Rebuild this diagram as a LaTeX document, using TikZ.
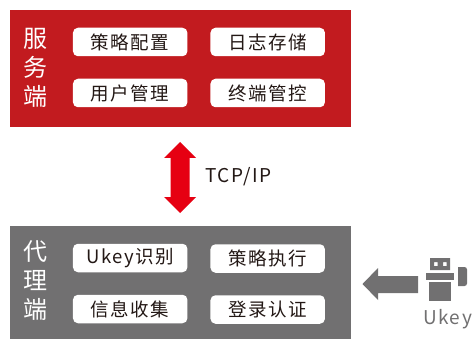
\documentclass[tikz,border=0pt]{standalone}
\usepackage{fontspec}
\setmainfont{Noto Sans CJK SC}
\newfontfamily\pillfont[LetterSpace=8]{Noto Sans CJK SC}
\newfontfamily\sidefont{Noto Sans CJK SC}
\definecolor{srvred}{HTML}{C21B1F}
\definecolor{agentgray}{HTML}{717071}
\definecolor{arrowred}{HTML}{E60012}
\definecolor{inktext}{HTML}{231815}
\tikzset{
  panel/.style={draw=none,inner sep=0pt,minimum width=341pt,anchor=north west},
  pill/.style={fill=white,rounded corners=5pt,inner sep=0pt,minimum width=114.5pt,minimum height=28.5pt,
    text=inktext,font=\pillfont\fontsize{18.5}{20}\selectfont},
  sidelabel/.style={text=white,align=center,inner sep=0pt,font=\sidefont\fontsize{24}{29}\selectfont},
  plain/.style={inner sep=0pt,text=inktext,font=\pillfont\fontsize{19}{20}\selectfont},
}
\begin{document}
\begin{tikzpicture}[x=1pt,y=-1pt]
\useasboundingbox (0,0) rectangle (473,339);
\fill[white] (0,0) rectangle (473,339);
\node[panel,fill=srvred,minimum height=117pt] (server) at (10,10) {};
\node[panel,fill=agentgray,minimum height=112.5pt] (agent) at (10,226) {};
\node[sidelabel] (st) at (35.5,68) {服\\务\\端};
\node[sidelabel] (at) at (35.5,281) {代\\理\\端};
\node[pill] (a1) at (130.2,42) {策略配置};
\node[pill] (a2) at (267.7,42) {日志存储};
\node[pill] (a3) at (130.2,93) {用户管理};
\node[pill] (a4) at (267.7,93) {终端管控};
\node[pill] (b1) at (130.2,258) {Ukey识别};
\node[pill] (b2) at (267.7,258.5) {策略执行};
\node[pill] (b3) at (130.2,309) {信息收集};
\node[pill] (b4) at (267.7,309.5) {登录认证};
\fill[arrowred] (180,142) -- (196,158) -- (189.5,158) -- (189.5,197) -- (196,197) -- (180,213)
  -- (164,197) -- (170.5,197) -- (170.5,158) -- (164,158) -- cycle;
\node[plain,anchor=west] (tcp) at (205,176.5) {TCP/IP};
\fill[agentgray] (362.5,284) -- (378,268) -- (378,276) -- (418,276) -- (418,293) -- (378,293) -- (378,300) -- cycle;
\fill[agentgray,even odd rule] (430,258) rectangle (450,270) (434,262) rectangle (437.5,266) (443,262) rectangle (446.5,266);
\fill[agentgray] (426,273) rectangle (454,280);
\fill[agentgray] (429,282) rectangle (451,301);
\fill[agentgray,rounded corners=2.5pt] (458,267) -- (467,267) -- (467,286) -- (458,286);
\node[plain,text=agentgray,anchor=base] (ukey) at (447.5,324) {Ukey};
\end{tikzpicture}
\end{document}
